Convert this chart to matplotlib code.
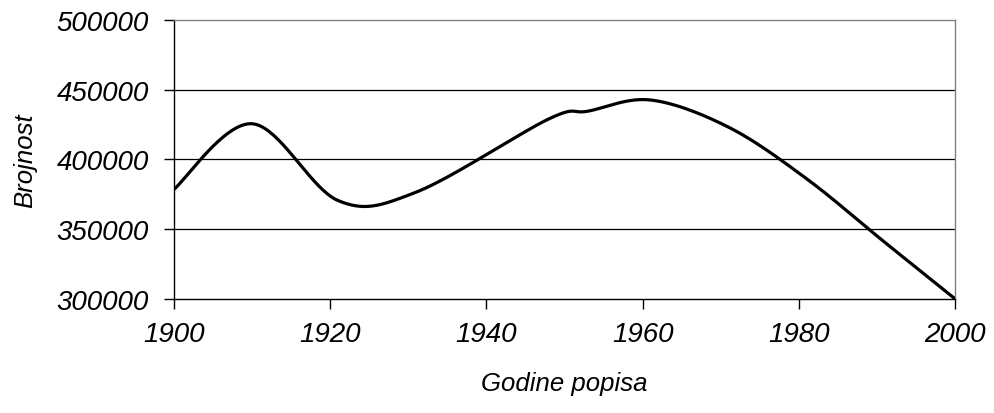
import numpy as np
import matplotlib
matplotlib.use("Agg")
import matplotlib.pyplot as plt

# --- DATA (census years and population) ---
years = [1900, 1910, 1921, 1931, 1948, 1953, 1961, 1971, 1981, 1991, 2001]
population = [378500, 425500, 370500, 376500, 429000, 434500, 442500, 423000, 386000, 340500, 295500]

y_ticks = [300000, 350000, 400000, 450000, 500000]
x_ticks = [1900, 1920, 1940, 1960, 1980, 2000]


def smooth_line(xs, ys, steps=40):
    # Excel-like smoothed line: Catmull-Rom spline through the points
    p = np.column_stack([xs, ys]).astype(float)
    p = np.vstack([p[0], p, p[-1]])
    out = []
    for i in range(1, len(p) - 2):
        p0, p1, p2, p3 = p[i - 1], p[i], p[i + 1], p[i + 2]
        t = np.linspace(0, 1, steps)[:, None]
        seg = 0.5 * ((2 * p1) + (-p0 + p2) * t +
                     (2 * p0 - 5 * p1 + 4 * p2 - p3) * t ** 2 +
                     (-p0 + 3 * p1 - 3 * p2 + p3) * t ** 3)
        out.append(seg)
    out = np.vstack(out)
    return out[:, 0], out[:, 1]


plt.rcParams['font.family'] = ['Liberation Sans', 'DejaVu Sans']
plt.rcParams['font.style'] = 'italic'

fig = plt.figure(figsize=(9.94, 4.14), dpi=100)
ax = fig.add_axes([0.175, 0.2754, 0.786, 0.6746])

sx, sy = smooth_line(years, population)
ax.plot(sx, sy, color='black', linewidth=2.3, solid_joinstyle='round', zorder=3)

ax.set_xlim(1900, 2000)
ax.set_ylim(300000, 500000)
ax.set_xticks(x_ticks)
ax.set_yticks(y_ticks)
ax.set_xticklabels([str(v) for v in x_ticks], fontsize=20, style='italic')
ax.set_yticklabels([str(v) for v in y_ticks], fontsize=20, style='italic')
ax.tick_params(axis='both', direction='out', length=7, width=1, color='black')
ax.tick_params(axis='x', pad=9)
ax.tick_params(axis='y', pad=11)

for v in y_ticks[1:-1]:
    ax.axhline(v, color='black', linewidth=0.9, zorder=1)

ax.spines['left'].set_color('black')
ax.spines['bottom'].set_color('black')
ax.spines['top'].set_color('#808080')
ax.spines['right'].set_color('#808080')
for s in ax.spines.values():
    s.set_linewidth(1.0)

ax.set_xlabel('Godine popisa', fontsize=18.5, style='italic', labelpad=17)
ax.set_ylabel('Brojnost', fontsize=18.5, style='italic', labelpad=14)

fig.savefig('out.png', dpi=100)
